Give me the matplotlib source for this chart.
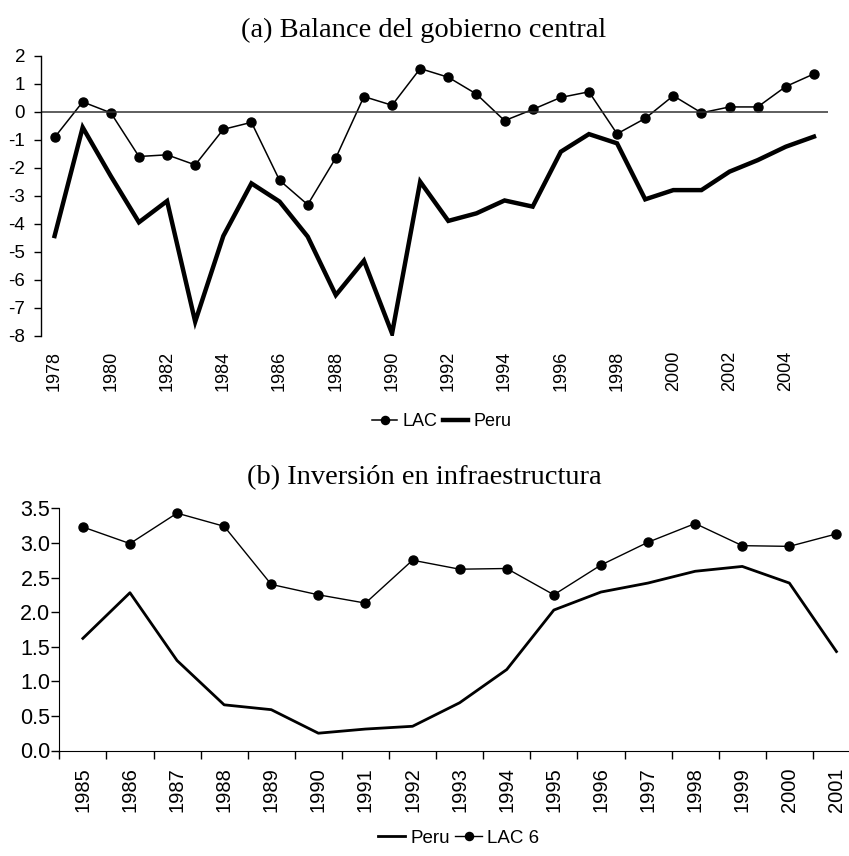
import numpy as np
import matplotlib.pyplot as plt

# panel (a) data
years_a = list(range(1978, 2006))
lac_a = [-0.92, 0.35, -0.04, -1.60, -1.54, -1.90, -0.63, -0.38, -2.45, -3.32,
         -1.65, 0.54, 0.23, 1.54, 1.23, 0.63, -0.32, 0.08, 0.51, 0.71,
         -0.79, -0.24, 0.57, -0.04, 0.17, 0.17, 0.90, 1.35]
peru_a = [-4.44, -0.56, -2.30, -3.95, -3.19, -7.50, -4.44, -2.56, -3.21, -4.46,
          -6.55, -5.32, -7.92, -2.50, -3.90, -3.63, -3.17, -3.39, -1.43, -0.80,
          -1.13, -3.13, -2.80, -2.80, -2.14, -1.73, -1.25, -0.89]

# panel (b) data
years_b = list(range(1985, 2002))
peru_b = [1.62, 2.28, 1.30, 0.66, 0.59, 0.25, 0.31, 0.35, 0.69, 1.17,
          2.03, 2.29, 2.42, 2.59, 2.66, 2.42, 1.43]
lac6_b = [3.23, 2.99, 3.43, 3.24, 2.40, 2.25, 2.13, 2.75, 2.62, 2.63,
          2.25, 2.68, 3.01, 3.28, 2.96, 2.95, 3.13]

plt.rcParams['font.family'] = ['Liberation Sans', 'DejaVu Sans']
plt.rcParams['axes.unicode_minus'] = False
W, H = 849, 856
fig = plt.figure(figsize=(W / 100, H / 100), dpi=100)

serif = ['Liberation Serif', 'DejaVu Serif']
fig.text(424 / W, 1 - 30 / H, '(a) Balance del gobierno central',
         ha='center', va='center', fontsize=20.5, family=serif)
fig.text(424 / W, 1 - 478 / H, '(b) Inversión en infraestructura',
         ha='center', va='center', fontsize=20.5, family=serif)

# ---- top panel
ax1 = fig.add_axes([40.5 / W, 1 - 335.7 / H, (828 - 40.5) / W, (335.7 - 55.7) / H])
l1, = ax1.plot(years_a, lac_a, color='black', lw=1.1, marker='o', ms=6.5)
l2, = ax1.plot(years_a, peru_a, color='black', lw=3.2, solid_joinstyle='miter')
ax1.axhline(0, color='#333333', lw=1.1)
ax1.set_xlim(1977.5, 2005.5)
ax1.set_ylim(-8, 2)
ax1.set_yticks(range(-8, 3))
ax1.set_xticks(years_a[::2])
ax1.set_xticklabels([str(y) for y in years_a[::2]], rotation=90)
for s in ['top', 'right', 'bottom']:
    ax1.spines[s].set_visible(False)
ax1.spines['left'].set_linewidth(1.0)
ax1.tick_params(axis='y', direction='out', length=5, width=1, pad=6, labelsize=13.5)
ax1.tick_params(axis='x', length=0, pad=11, labelsize=13)

fig.legend([l1, l2], ['LAC', 'Peru'], loc='center', bbox_to_anchor=(442 / W, 1 - 422 / H),
           ncol=2, frameon=False, fontsize=13, handlelength=1.4, handletextpad=0.3,
           columnspacing=0.3, markerscale=0.9)

# ---- bottom panel
ax2 = fig.add_axes([59.3 / W, 1 - 750.5 / H, (860 - 59.3) / W, (750.5 - 508.3) / H])
p1, = ax2.plot(years_b, peru_b, color='black', lw=2.0)
p2, = ax2.plot(years_b, lac6_b, color='black', lw=1.0, marker='o', ms=6.5)
ax2.set_xlim(1984.5, 2001.5)
ax2.set_ylim(0, 3.5)
ax2.set_yticks(np.arange(0, 3.51, 0.5))
ax2.set_yticklabels(['%.1f' % v for v in np.arange(0, 3.51, 0.5)])
ax2.set_xticks(np.arange(1984.5, 2002, 1.0))
ax2.set_xticklabels([])
ax2.set_xticks(years_b, minor=True)
ax2.set_xticklabels([str(y) for y in years_b], minor=True, rotation=90)
for s in ['top', 'right']:
    ax2.spines[s].set_visible(False)
ax2.tick_params(axis='both', which='major', direction='out', length=5.5, width=1)
ax2.tick_params(axis='y', pad=1, labelsize=15.5)
ax2.tick_params(axis='x', which='minor', length=0, pad=12, labelsize=14.5)

fig.legend([p1, p2], ['Peru', 'LAC 6'], loc='center', bbox_to_anchor=(459 / W, 1 - 838 / H),
           ncol=2, frameon=False, fontsize=13.5, handlelength=1.4, handletextpad=0.3,
           columnspacing=0.3, markerscale=0.9)

fig.savefig('out.png', dpi=100)
